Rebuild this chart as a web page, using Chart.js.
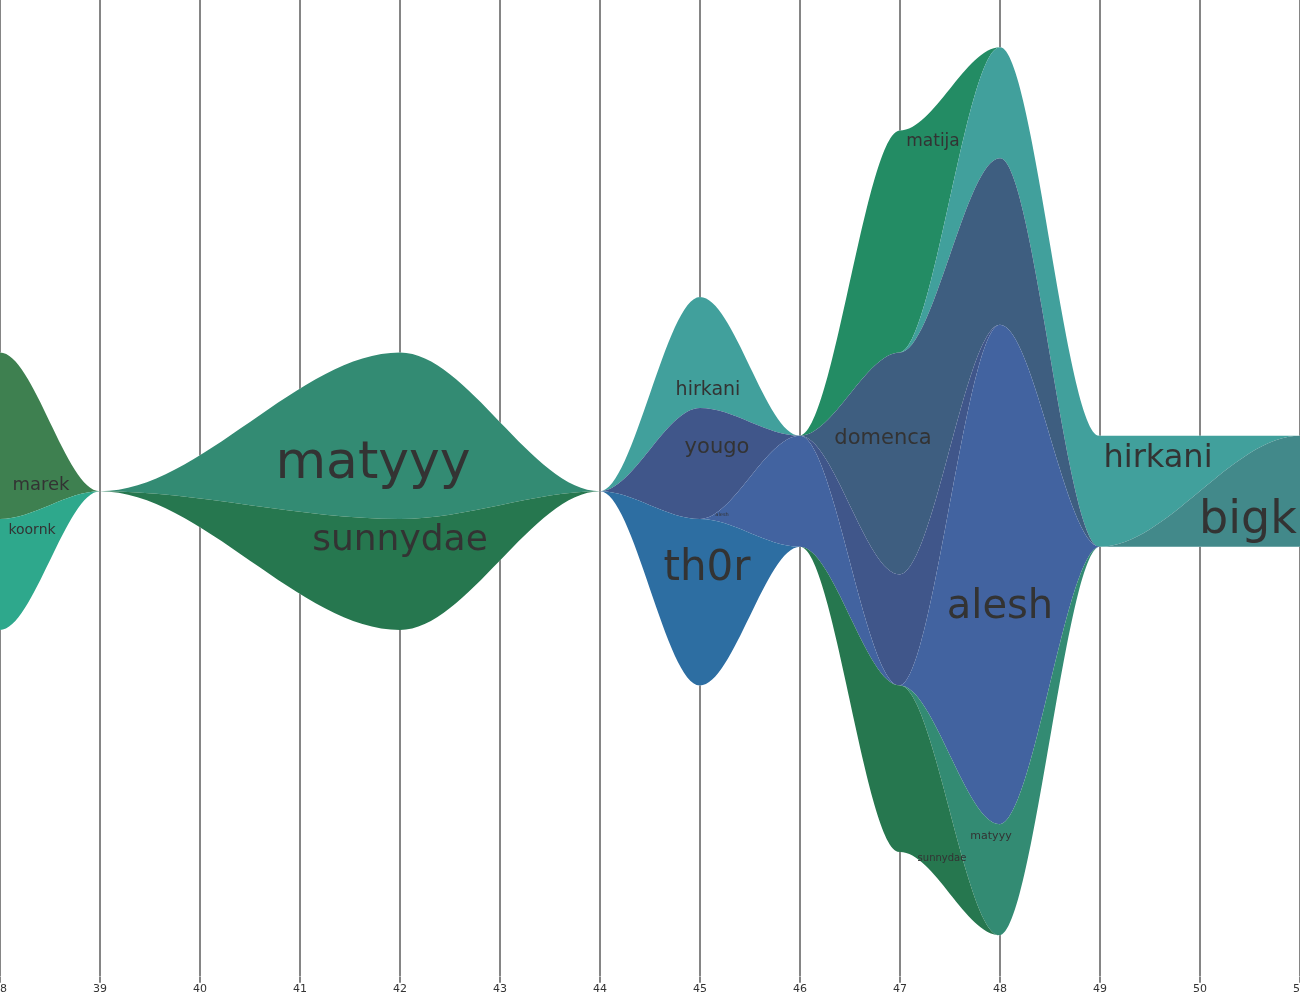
<!DOCTYPE html>
<html lang="es">
<head>
<meta charset="utf-8">
<title>Actividad por semana</title>
<style>
    html, body { margin: 0; padding: 0; background: #fff; overflow: hidden; }
    #contenedor { position: relative; width: 1300px; height: 1000px; }
</style>
</head>
<body>
<div id="contenedor"><canvas id="grafica-flujo"></canvas></div>
<script src="https://cdn.jsdelivr.net/npm/chart.js@4/dist/chart.umd.min.js"></script>
<script>
var SEMANAS = [38, 39, 42, 44, 45, 46, 47, 48, 49, 51];

// orden de la pila, de abajo hacia arriba
var USUARIOS = ['bigk', 'sunnydae', 'matyyy', 'th0r', 'alesh', 'yougo', 'domenca', 'hirkani', 'matija', 'koornk', 'marek'];

var BIGK     = [0, 0, 0, 0, 0, 0, 0, 0, 0, 2];
var SUNNYDAE = [0, 0, 2, 0, 0, 0, 3, 0, 0, 0];
var MATYYY   = [0, 0, 3, 0, 0, 0, 0, 2, 0, 0];
var TH0R     = [0, 0, 0, 0, 3, 0, 0, 0, 0, 0];
var ALESH    = [0, 0, 0, 0, 0, 2, 0, 9, 0, 0];
var YOUGO    = [0, 0, 0, 0, 2, 0, 2, 0, 0, 0];
var DOMENCA  = [0, 0, 0, 0, 0, 0, 4, 3, 0, 0];
var HIRKANI  = [0, 0, 0, 0, 2, 0, 0, 2, 2, 0];
var MATIJA   = [0, 0, 0, 0, 0, 0, 4, 0, 0, 0];
var KOORNK   = [2, 0, 0, 0, 0, 0, 0, 0, 0, 0];
var MAREK    = [3, 0, 0, 0, 0, 0, 0, 0, 0, 0];

var SERIES = [BIGK, SUNNYDAE, MATYYY, TH0R, ALESH, YOUGO, DOMENCA, HIRKANI, MATIJA, KOORNK, MAREK];

var COLORES = {
    bigk: '#42898a',
    sunnydae: '#26774f',
    matyyy: '#338b73',
    th0r: '#2d6ea2',
    alesh: '#4263a0',
    yougo: '#40568a',
    domenca: '#3e5e80',
    hirkani: '#41a09c',
    matija: '#238c64',
    koornk: '#2ea88c',
    marek: '#3e8050',
};

// nombres sobre el flujo: semana, altura (unidades desde el centro) y tamaño de letra
var ETIQUETAS = [
    {texto: 'marek', semana: 38.41, y: 0.02, tam: 18},
    {texto: 'koornk', semana: 38.32, y: -0.77, tam: 14},
    {texto: 'matyyy', semana: 41.73, y: 0.23, tam: 52},
    {texto: 'sunnydae', semana: 42.00, y: -1.06, tam: 36},
    {texto: 'hirkani', semana: 45.08, y: 1.73, tam: 19},
    {texto: 'yougo', semana: 45.17, y: 0.68, tam: 21},
    {texto: 'th0r', semana: 45.07, y: -1.60, tam: 42},
    {texto: 'alesh', semana: 45.22, y: -0.45, tam: 5},
    {texto: 'domenca', semana: 46.83, y: 0.85, tam: 21},
    {texto: 'matija', semana: 47.33, y: 6.22, tam: 17},
    {texto: 'alesh', semana: 48.00, y: -2.29, tam: 40},
    {texto: 'matyyy', semana: 47.91, y: -6.27, tam: 11},
    {texto: 'sunnydae', semana: 47.42, y: -6.67, tam: 10},
    {texto: 'hirkani', semana: 49.58, y: 0.43, tam: 32},
    {texto: 'bigk', semana: 50.48, y: -0.76, tam: 46},
];

(function () {
    var FUENTE = "'DejaVu Sans', 'Noto Sans', sans-serif";
    var GRIS = '#858585';

    // línea base del flujo: la mitad del total hacia abajo
    var base = SEMANAS.map(function (_, i) {
        var total = SERIES.reduce(function (s, serie) {
            return s + serie[i];
        }, 0);

        return {x: SEMANAS[i], y: -total / 2};
    });

    var datasets = [{
        label: 'base',
        data: base,
        fill: false,
        borderWidth: 0,
        pointRadius: 0,
        backgroundColor: 'rgba(0,0,0,0)',
    }];

    USUARIOS.forEach(function (u, k) {
        datasets.push({
            label: u,
            data: SERIES[k].map(function (v, i) {
                return {x: SEMANAS[i], y: v};
            }),
            fill: '-1',
            backgroundColor: COLORES[u],
            borderColor: COLORES[u],
            borderWidth: 0,
            pointRadius: 0,
        });
    });

    // curvas con tangente horizontal en cada semana (como una onda coseno)
    var tangentesPlanas = {
        id: 'tangentesPlanas',
        beforeDraw: function (chart) {
            chart.getSortedVisibleDatasetMetas().forEach(function (meta) {
                if (!meta.dataset) {
                    return;
                }

                meta.dataset.updateControlPoints(chart.chartArea, 'x');

                var pts = meta.data;

                for (var i = 0; i < pts.length; i++) {
                    var p = pts[i];
                    var ant = pts[i - 1];
                    var sig = pts[i + 1];

                    p.cp1x = ant ? p.x - (p.x - ant.x) / 3 : p.x;
                    p.cp1y = p.y;
                    p.cp2x = sig ? p.x + (sig.x - p.x) / 3 : p.x;
                    p.cp2y = p.y;
                }
            });
        },
    };

    // líneas verticales de cada semana, sólo fuera del flujo
    var lineasSemana = {
        id: 'lineasSemana',
        beforeDatasetsDraw: function (chart) {
            var ctx = chart.ctx;
            var ex = chart.scales.x;
            var area = chart.chartArea;
            var arriba = chart.getDatasetMeta(chart.data.datasets.length - 1).dataset;
            var abajo = chart.getDatasetMeta(0).dataset;

            ctx.save();

            ctx.beginPath();
            ctx.rect(area.left, area.top, area.right - area.left, area.bottom - area.top);
            arriba.pathSegment(ctx, arriba.segments[0], {move: true});
            abajo.pathSegment(ctx, abajo.segments[0], {move: false, reverse: true});
            ctx.closePath();
            ctx.clip('evenodd');

            ctx.strokeStyle = GRIS;
            ctx.lineWidth = 2;

            ex.ticks.forEach(function (t) {
                var px = Math.round(ex.getPixelForValue(t.value));

                ctx.beginPath();
                ctx.moveTo(px, area.top);
                ctx.lineTo(px, area.bottom);
                ctx.stroke();
            });

            ctx.restore();
        },
    };

    var nombres = {
        id: 'nombres',
        afterDatasetsDraw: function (chart) {
            var ctx = chart.ctx;
            var ex = chart.scales.x;
            var ey = chart.scales.y;

            ctx.save();
            ctx.fillStyle = '#333';
            ctx.textAlign = 'center';
            ctx.textBaseline = 'alphabetic';

            ETIQUETAS.forEach(function (e) {
                ctx.font = e.tam + 'px ' + FUENTE;
                ctx.fillText(e.texto, ex.getPixelForValue(e.semana), ey.getPixelForValue(e.y));
            });

            ctx.restore();
        },
    };

    new Chart(document.getElementById('grafica-flujo'), {
        type: 'line',
        data: {datasets: datasets},
        options: {
            responsive: true,
            maintainAspectRatio: false,
            animation: false,
            cubicInterpolationMode: 'monotone',
            layout: {padding: {left: 0, right: 0, top: 0, bottom: 4}},
            plugins: {
                legend: {display: false},
                tooltip: {enabled: false},
            },
            scales: {
                x: {
                    type: 'linear',
                    min: 38,
                    max: 51,
                    border: {display: false},
                    grid: {color: GRIS, lineWidth: 2, tickLength: 6, drawOnChartArea: false},
                    ticks: {
                        stepSize: 1,
                        autoSkip: false,
                        maxRotation: 0,
                        padding: 0,
                        color: '#333',
                        font: {family: FUENTE, size: 11},
                    },
                    afterFit: function (escala) {
                        escala.paddingLeft = 0;
                        escala.paddingRight = 0;
                    },
                },
                y: {
                    display: false,
                    stacked: 'single',
                    min: -8.75,
                    max: 8.85,
                },
            },
        },
        plugins: [tangentesPlanas, lineasSemana, nombres],
    });
})();
</script>
</body>
</html>
